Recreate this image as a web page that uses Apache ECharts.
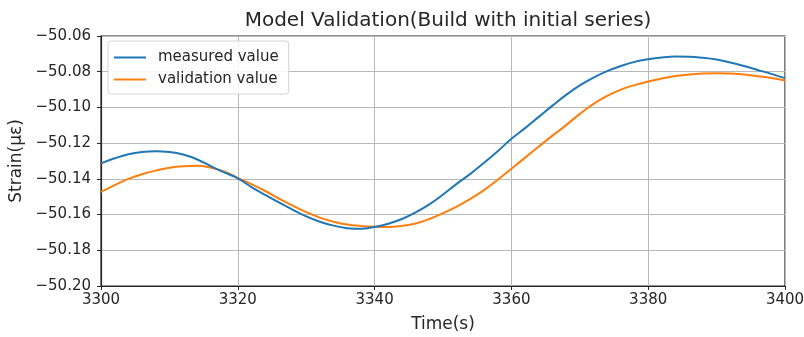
<!DOCTYPE html>
<html>
<head>
<meta charset="utf-8">
<script src="https://cdn.jsdelivr.net/npm/echarts@6/dist/echarts.min.js"></script>
<style>
  html, body { margin: 0; padding: 0; background: #fff; }
  #chart { width: 804px; height: 337px; }
</style>
</head>
<body>
<div id="chart"></div>
<script>
// Time stamps (s), sampled every 2 s
const timeSeconds = [
  3300, 3302, 3304, 3306, 3308, 3310, 3312, 3314, 3316, 3318,
  3320, 3322, 3324, 3326, 3328, 3330, 3332, 3334, 3336, 3338,
  3340, 3342, 3344, 3346, 3348, 3350, 3352, 3354, 3356, 3358,
  3360, 3362, 3364, 3366, 3368, 3370, 3372, 3374, 3376, 3378,
  3380, 3382, 3384, 3386, 3388, 3390, 3392, 3394, 3396, 3398, 3400
];

// Measured strain (µε)
const measuredValue = [
  -50.1313, -50.1285, -50.1262, -50.1249, -50.1245, -50.1250, -50.1264, -50.1290, -50.1328, -50.1364,
  -50.1397, -50.1446, -50.1490, -50.1532, -50.1572, -50.1610, -50.1640, -50.1662, -50.1676, -50.1680,
  -50.1669, -50.1651, -50.1625, -50.1588, -50.1543, -50.1488, -50.1428, -50.1372, -50.1310, -50.1245,
  -50.1176, -50.1116, -50.1053, -50.0990, -50.0930, -50.0877, -50.0833, -50.0797, -50.0768, -50.0745,
  -50.0730, -50.0720, -50.0715, -50.0716, -50.0722, -50.0732, -50.0748, -50.0768, -50.0790, -50.0812, -50.0836
];

// Model output built from the initial series (µε)
const validationValue = [
  -50.1473, -50.1435, -50.1400, -50.1374, -50.1354, -50.1338, -50.1329, -50.1327, -50.1337, -50.1358,
  -50.1394, -50.1430, -50.1468, -50.1510, -50.1550, -50.1586, -50.1617, -50.1640, -50.1656, -50.1664,
  -50.1668, -50.1669, -50.1663, -50.1650, -50.1625, -50.1592, -50.1555, -50.1512, -50.1463, -50.1405,
  -50.1343, -50.1281, -50.1219, -50.1158, -50.1099, -50.1036, -50.0980, -50.0935, -50.0900, -50.0875,
  -50.0855, -50.0838, -50.0824, -50.0815, -50.0810, -50.0808, -50.0810, -50.0815, -50.0825, -50.0835, -50.0849
];

const seriesNames = ['measured value', 'validation value'];
const xTicks = [3300, 3320, 3340, 3360, 3380, 3400];
const yTicks = [-50.20, -50.18, -50.16, -50.14, -50.12, -50.10, -50.08, -50.06];

const FONT = 'DejaVu Sans';
const INK = '#262626';
const pair = (vals) => timeSeconds.map((t, i) => [t, vals[i]]);

const chart = echarts.init(document.getElementById('chart'), null, { renderer: 'canvas' });
chart.setOption({
  animation: false,
  backgroundColor: '#fff',
  title: {
    text: 'Model Validation(Build with initial series)',
    left: 443, top: 6, textAlign: 'center',
    textStyle: { fontFamily: FONT, fontSize: 20, fontWeight: 'normal', color: INK }
  },
  grid: {
    left: 101, right: 19, top: 36, bottom: 51,
    outerBoundsMode: 'none', containLabel: false,
    show: true, borderColor: INK, borderWidth: 1.2, backgroundColor: 'transparent'
  },
  legend: {
    orient: 'vertical', left: 108, top: 41,
    padding: [8, 10, 6, 6], itemGap: 5,
    backgroundColor: 'rgba(255,255,255,0.85)', borderColor: '#d4d4d4', borderWidth: 1, borderRadius: 3,
    icon: 'rect', itemWidth: 32, itemHeight: 2,
    textStyle: { fontFamily: FONT, fontSize: 15, color: INK, padding: [0, 0, 0, 7], lineHeight: 17 },
    data: seriesNames
  },
  xAxis: {
    type: 'value', min: xTicks[0], max: xTicks[xTicks.length - 1], interval: 20,
    name: 'Time(s)', nameLocation: 'middle', nameGap: 30,
    nameTextStyle: { fontFamily: FONT, fontSize: 17, color: INK },
    axisLine: { show: true, onZero: false, lineStyle: { color: INK, width: 1.2 } },
    axisTick: { show: true, length: 4, lineStyle: { color: INK } },
    axisLabel: {
      fontFamily: FONT, fontSize: 15, color: INK, margin: 7,
      formatter: (v) => String(v)
    },
    splitLine: { show: true, lineStyle: { color: '#b8b8b8', width: 1 } }
  },
  yAxis: {
    type: 'value', min: yTicks[0], max: yTicks[yTicks.length - 1], interval: 0.02,
    name: 'Strain(με)', nameLocation: 'middle', nameGap: 75, nameRotate: 90,
    nameTextStyle: { fontFamily: FONT, fontSize: 17, color: INK },
    axisLine: { show: true, onZero: false, lineStyle: { color: INK, width: 1.2 } },
    axisTick: { show: true, length: 4, lineStyle: { color: INK } },
    axisLabel: {
      fontFamily: FONT, fontSize: 15, color: INK, margin: 10,
      formatter: (v) => v.toFixed(2).replace('-', '\u2212')
    },
    splitLine: { show: true, lineStyle: { color: '#b8b8b8', width: 1 } }
  },
  series: [
    {
      name: seriesNames[0], type: 'line', data: pair(measuredValue),
      smooth: 0.4, showSymbol: false, color: '#1f77b4',
      lineStyle: { width: 2, color: '#1f77b4' }, z: 3
    },
    {
      name: seriesNames[1], type: 'line', data: pair(validationValue),
      smooth: 0.4, showSymbol: false, color: '#ff7f0e',
      lineStyle: { width: 2, color: '#ff7f0e' }, z: 2
    }
  ]
});
</script>
</body>
</html>
